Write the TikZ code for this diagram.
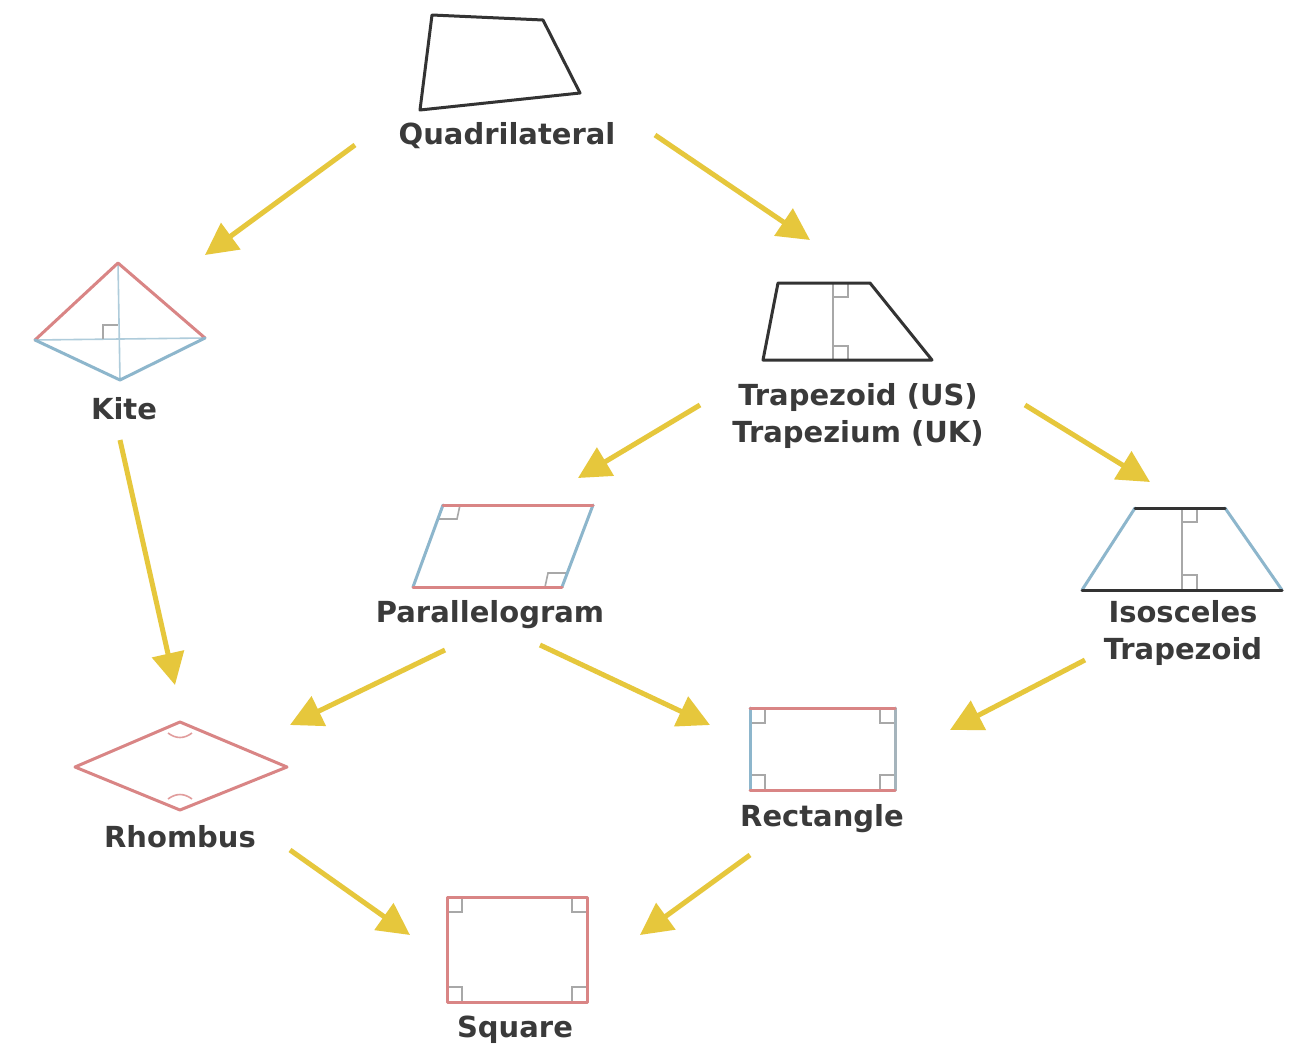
\documentclass[tikz,border=0pt]{standalone}
\usepackage{fontspec}
\setmainfont{DejaVu Sans}
\usetikzlibrary{arrows.meta}
\definecolor{arr}{HTML}{E6C73C}
\definecolor{txt}{HTML}{3A3A3A}
\definecolor{dk}{HTML}{333333}
\definecolor{rd}{HTML}{D98585}
\definecolor{bl}{HTML}{8DB6CC}
\definecolor{mk}{HTML}{A8A8A8}
\begin{document}
\begin{tikzpicture}[x=1pt,y=-1pt,
  lbl/.style={font=\fontsize{29}{37}\selectfont\bfseries, text=txt, align=center, inner sep=0pt},
  sline/.style={line width=3pt, line join=round, line cap=round},
  dkline/.style={sline, draw=dk},
  rdline/.style={sline, draw=rd},
  blline/.style={sline, draw=bl},
  rmark/.style={line width=1.6pt, draw=mk},
  flow/.style={draw=arr, line width=5pt, -{Triangle[length=32pt,width=32pt]}}]
\useasboundingbox[fill=white] (0,0) rectangle (1299,1047);

% ---------- Quadrilateral ----------
\draw[dkline] (432,15) -- (543,20) -- (580,93) -- (420,110) -- cycle;
\node[lbl] (quad) at (507,136) {Quadrilateral};

% ---------- Kite ----------
\draw[rmark, draw=bl!70] (118,263) -- (120,380);
\draw[rmark, draw=bl!70] (35,340) -- (205,338);
\draw[rmark] (103,339) -- (103,325) -- (118,325);
\draw[rdline] (35,340) -- (118,263) -- (205,338);
\draw[blline] (35,340) -- (120,380) -- (205,338);
\node[lbl] (kite) at (124,409) {Kite};

% ---------- Trapezoid ----------
\draw[rmark] (833,283) -- (833,360);
\draw[rmark] (833,297) -- (848,297) -- (848,283);
\draw[rmark] (833,346) -- (848,346) -- (848,360);
\draw[dkline] (778,283) -- (870,283) -- (932,360) -- (763,360) -- cycle;
\node[lbl] (trap) at (858,416) {Trapezoid (US)\\Trapezium (UK)};

% ---------- Parallelogram ----------
\draw[rmark] (439,519) -- (457,519) -- (460,505);
\draw[rmark] (566,573) -- (548,573) -- (545,587);
\draw[blline] (443,505) -- (413,587);
\draw[blline] (593,505) -- (562,587);
\draw[rdline] (443,505) -- (593,505);
\draw[rdline] (413,587) -- (562,587);
\node[lbl] (para) at (490,615) {Parallelogram};

% ---------- Isosceles Trapezoid ----------
\draw[rmark] (1182,508) -- (1182,590);
\draw[rmark] (1182,522) -- (1197,522) -- (1197,508);
\draw[rmark] (1182,575) -- (1197,575) -- (1197,590);
\draw[blline] (1135,508) -- (1082,590);
\draw[blline] (1225,508) -- (1282,590);
\draw[dkline] (1135,508) -- (1225,508);
\draw[dkline] (1082,590) -- (1282,590);
\node[lbl] (isos) at (1183,633) {Isosceles\\Trapezoid};

% ---------- Rhombus ----------
\draw[rmark, draw=rd!80] (168,733) .. controls (176,739) and (184,739) .. (192,733);
\draw[rmark, draw=rd!80] (168,799) .. controls (176,793) and (184,793) .. (192,799);
\draw[rdline] (180,722) -- (287,767) -- (180,810) -- (75,767) -- cycle;
\node[lbl] (rhom) at (180,837) {Rhombus};

% ---------- Rectangle ----------
\draw[rmark] (750,723) -- (765,723) -- (765,708);
\draw[rmark] (895,723) -- (880,723) -- (880,708);
\draw[rmark] (750,775) -- (765,775) -- (765,790);
\draw[rmark] (895,775) -- (880,775) -- (880,790);
\draw[blline] (750,708) -- (750,790);
\draw[blline, draw=bl!60!dk!60] (895,708) -- (895,790);
\draw[rdline] (750,708) -- (895,708);
\draw[rdline] (750,790) -- (895,790);
\node[lbl] (rect) at (822,819) {Rectangle};

% ---------- Square ----------
\draw[rmark] (447,912) -- (462,912) -- (462,897);
\draw[rmark] (587,912) -- (572,912) -- (572,897);
\draw[rmark] (447,987) -- (462,987) -- (462,1002);
\draw[rmark] (587,987) -- (572,987) -- (572,1002);
\draw[rdline] (447,897) rectangle (587,1002);
\node[lbl] (sq) at (515,1030) {Square};

% ---------- connector end points ----------
\coordinate (a1s) at (355,145);  \coordinate (a1e) at (205,255);
\coordinate (a2s) at (655,135);  \coordinate (a2e) at (810,240);
\coordinate (a3s) at (120,440);  \coordinate (a3e) at (175,685);
\coordinate (a4s) at (700,405);  \coordinate (a4e) at (578,478);
\coordinate (a5s) at (1025,405); \coordinate (a5e) at (1150,482);
\coordinate (a6s) at (445,650);  \coordinate (a6e) at (290,725);
\coordinate (a7s) at (540,645);  \coordinate (a7e) at (710,725);
\coordinate (a8s) at (1085,660); \coordinate (a8e) at (950,730);
\coordinate (a9s) at (290,850);  \coordinate (a9e) at (410,935);
\coordinate (a10s) at (750,855); \coordinate (a10e) at (640,935);

\draw[flow] (a1s) -- (a1e);
\draw[flow] (a2s) -- (a2e);
\draw[flow] (a3s) -- (a3e);
\draw[flow] (a4s) -- (a4e);
\draw[flow] (a5s) -- (a5e);
\draw[flow] (a6s) -- (a6e);
\draw[flow] (a7s) -- (a7e);
\draw[flow] (a8s) -- (a8e);
\draw[flow] (a9s) -- (a9e);
\draw[flow] (a10s) -- (a10e);
\end{tikzpicture}
\end{document}
